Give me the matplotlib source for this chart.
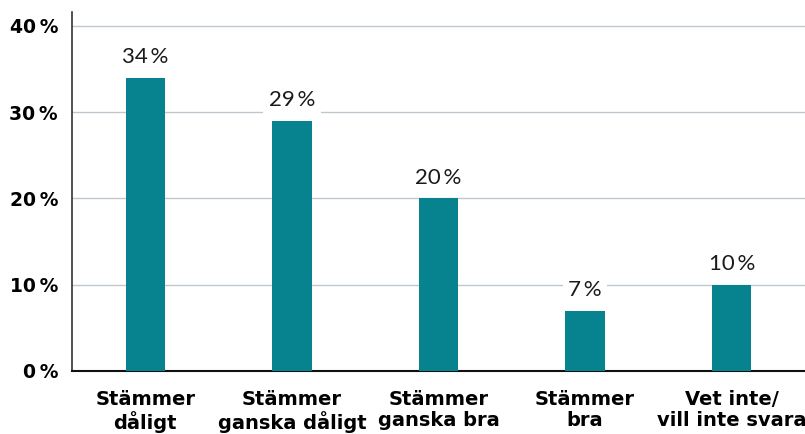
import matplotlib.pyplot as plt

categories = ["Stämmer\ndåligt", "Stämmer\nganska dåligt", "Stämmer\nganska bra",
              "Stämmer\nbra", "Vet inte/\nvill inte svara"]
values = [34, 29, 20, 7, 10]
yticks = [0, 10, 20, 30, 40]

plt.rcParams['font.family'] = ['DejaVu Sans']

fig = plt.figure(figsize=(8.05, 4.34), dpi=100)
ax = fig.add_axes([72 / 805, 1 - 371 / 434, 1 - 72 / 805, (371 - 12) / 434])

x = range(len(categories))
ax.bar(x, values, width=0.27, color='#07838f', zorder=3)

for i, v in zip(x, values):
    ax.text(i, v + 1.2, f"{v}\u2009%", ha='center', va='bottom', fontsize=16,
            color='#1a1a1a', zorder=4, family=['Lato', 'DejaVu Sans'],
            bbox=dict(facecolor='white', edgecolor='none', pad=4))

ax.set_xlim(-0.5, len(categories) - 0.5)
ax.set_ylim(0, 41.6)
ax.set_yticks(yticks)
ax.set_yticklabels([f"{t}\u2009%" for t in yticks], fontsize=13.5, fontweight='bold')
ax.set_xticks(list(x))
ax.set_xticklabels(categories, fontsize=14, fontweight='bold', linespacing=1.1)
ax.tick_params(axis='y', length=0, pad=10)
ax.tick_params(axis='x', length=0, pad=14)

ax.grid(axis='y', color='#bfc7ce', linewidth=1, zorder=0)
for s in ['top', 'right']:
    ax.spines[s].set_visible(False)
ax.spines['left'].set_color('#333333')
ax.spines['bottom'].set_color('#111111')
ax.spines['left'].set_linewidth(1.2)
ax.spines['bottom'].set_linewidth(1.5)

fig.savefig('out.png', dpi=100)
